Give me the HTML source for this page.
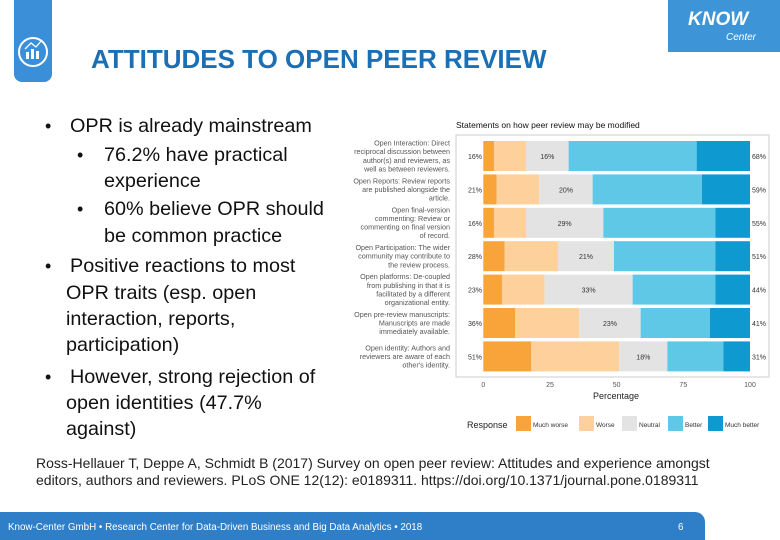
<!DOCTYPE html>
<html><head><meta charset="utf-8"><style>
body{margin:0;width:780px;height:540px;overflow:hidden;background:#fff;font-family:"Liberation Sans",sans-serif;position:relative}
.abs{position:absolute}
.b{position:absolute;font-size:19.8px;color:#111;line-height:26px;white-space:nowrap}
.d{position:absolute;font-size:18px;color:#111;line-height:26px}
</style></head><body>
<div class="abs" style="left:14px;top:0;width:38px;height:82px;background:#3a8fd8;border-radius:0 0 8px 8px">
<svg width="38" height="82"><circle cx="19" cy="52" r="14" fill="none" stroke="#fff" stroke-width="2"/><rect x="12" y="52" width="3" height="7" fill="#fff"/><rect x="17" y="49" width="3" height="10" fill="#fff"/><rect x="22" y="51" width="3" height="8" fill="#fff"/><polyline points="11,49 17,43 22,47 28,40" fill="none" stroke="#fff" stroke-width="1.3"/></svg></div>
<div class="abs" style="left:91px;top:44px;font-size:26px;font-weight:bold;color:#1a6fb5;white-space:nowrap">ATTITUDES TO OPEN PEER REVIEW</div>
<div class="abs" style="left:668px;top:0;width:112px;height:52px;background:#3d94d6;color:#fff">
<div style="position:absolute;left:20px;top:9px;font-size:19px;font-weight:bold;font-style:italic">KNOW</div>
<div style="position:absolute;left:58px;top:32px;font-size:10px;font-style:italic">Center</div></div>

<div class="d" style="left:45px;top:113px">•</div><div class="b" style="left:70px;top:113px">OPR is already mainstream</div>
<div class="d" style="left:77px;top:142px">•</div><div class="b" style="left:104px;top:142px">76.2% have practical</div>
<div class="b" style="left:104px;top:168px">experience</div>
<div class="d" style="left:77px;top:196px">•</div><div class="b" style="left:104px;top:196px">60% believe OPR should</div>
<div class="b" style="left:104px;top:223px">be common practice</div>
<div class="d" style="left:45px;top:253px">•</div><div class="b" style="left:70px;top:253px">Positive reactions to most</div>
<div class="b" style="left:66px;top:280px">OPR traits (esp. open</div>
<div class="b" style="left:66px;top:306px">interaction, reports,</div>
<div class="b" style="left:66px;top:332px">participation)</div>
<div class="d" style="left:45px;top:364px">•</div><div class="b" style="left:70px;top:364px">However, strong rejection of</div>
<div class="b" style="left:66px;top:390px">open identities (47.7%</div>
<div class="b" style="left:66px;top:416px">against)</div>

<div class="abs" style="left:36px;top:455px;font-size:14px;color:#222;line-height:17px;white-space:nowrap">Ross-Hellauer T, Deppe A, Schmidt B (2017) Survey on open peer review: Attitudes and experience amongst<br>editors, authors and reviewers. PLoS ONE 12(12): e0189311. https://doi.org/10.1371/journal.pone.0189311</div>

<div class="abs" style="left:0;top:512px;width:705px;height:28px;background:#2f7fc8;border-radius:0 10px 0 0;color:#fff;font-size:9.8px">
<div style="position:absolute;left:8px;top:10px;white-space:nowrap">Know-Center GmbH • Research Center for Data-Driven Business and Big Data Analytics • 2018</div>
<div style="position:absolute;left:678px;top:10px">6</div></div>

<svg class="abs" style="left:0;top:0" width="780" height="540" id="chart"></svg>
<script>
const categories=[["Open Interaction: Direct","reciprocal discussion between","author(s) and reviewers, as","well as between reviewers."],["Open Reports: Review reports","are published alongside the","article."],["Open final-version","commenting: Review or","commenting on final version","of record."],["Open Participation: The wider","community may contribute to","the review process."],["Open platforms: De-coupled","from publishing in that it is","facilitated by a different","organizational entity."],["Open pre-review manuscripts:","Manuscripts are made","immediately available."],["Open identity: Authors and","reviewers are aware of each","other's identity."]];
const muchWorse=[4,5,4,8,7,12,18];
const worse=[12,16,12,20,16,24,33];
const neutral=[16,20,29,21,33,23,18];
const better=[48,41,42,38,31,26,21];
const muchBetter=[20,18,13,13,13,15,10];
const negLabels=["16%","21%","16%","28%","23%","36%","51%"];
const neuLabels=["16%","20%","29%","21%","33%","23%","18%"];
const posLabels=["68%","59%","55%","51%","44%","41%","31%"];
const xTicks=[0,25,50,75,100];
const responses=["Much worse","Worse","Neutral","Better","Much better"];
const colors=["#f9a33b","#fdd09c","#e3e3e3","#5fc8e6","#0e99d0"];
const svg=document.getElementById('chart');const NS='http://www.w3.org/2000/svg';
function x(v){return 483.3+v*2.667}
function y(i){return 141+i*33.4}
function mk(t,a,p){const e=document.createElementNS(NS,t);for(const k in a)e.setAttribute(k,a[k]);(p||svg).appendChild(e);return e}
function tx(s,a){const e=mk('text',Object.assign({'font-family':'Liberation Sans, sans-serif','fill':'#333'},a));e.textContent=s;return e}
let t=tx("Statements on how peer review may be modified",{x:456,y:128,'font-size':8.5,fill:'#111'});


let p=mk('rect',{x:456,y:135,width:313,height:242,fill:'#fff',stroke:'#ccc','stroke-width':1});


const series=[muchWorse,worse,neutral,better,muchBetter];
categories.forEach((c,i)=>{
 let acc=0;
 series.forEach((s,j)=>{
  const r=mk('rect',{x:x(acc),y:y(i),width:x(acc+s[i])-x(acc),height:30,fill:colors[j]});
  
  
  acc+=s[i];
 });
 const n0=muchWorse[i]+worse[i];
 let a=tx(negLabels[i],{x:482,y:y(i)+18,'font-size':7,'text-anchor':'end'});
 
 
 let b=tx(neuLabels[i],{x:(x(n0)+x(n0+neutral[i]))/2,y:y(i)+18,'font-size':7,'text-anchor':'middle'});
 
 
 let d=tx(posLabels[i],{x:752,y:y(i)+18,'font-size':7});
 
 
 const cy=y(i)+15-(c.length-1)*4.3+2.5;
 c.forEach((l,k)=>{let e=tx(l,{x:450,y:cy+k*8.6,'font-size':7.2,'text-anchor':'end',fill:'#555'});
 
 });
});
xTicks.forEach(v=>{let e=tx(String(v),{x:x(v),y:387,'font-size':7,'text-anchor':'middle',fill:'#555'});
 
 });
let xt=tx("Percentage",{x:616,y:399,'font-size':9,'text-anchor':'middle',fill:'#222'});


let lt=tx("Response",{x:467,y:428,'font-size':9,fill:'#222'});


const lx=[516,579,622,668,708];
responses.forEach((r,j)=>{
 const g=mk('g',{});
 
 
 mk('rect',{x:lx[j],y:416,width:15,height:15,fill:colors[j]},g);
 const e=document.createElementNS(NS,'text');e.setAttribute('x',lx[j]+17);e.setAttribute('y',427);e.setAttribute('font-size',6.5);e.setAttribute('font-family','Liberation Sans, sans-serif');e.setAttribute('fill','#333');e.textContent=r;g.appendChild(e);
});
</script>
</body></html>
